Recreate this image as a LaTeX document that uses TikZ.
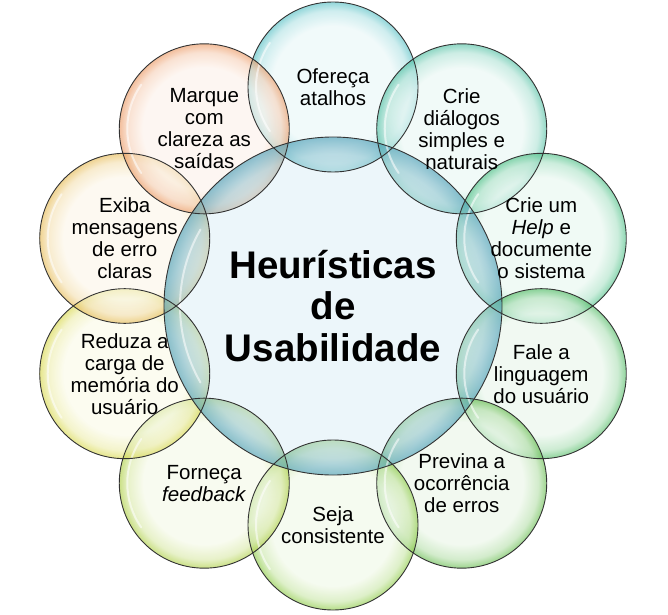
\documentclass[tikz,border=0pt]{standalone}
\usepackage{fontspec}
\setmainfont{Liberation Sans}
\usepackage{xcolor}
\usepackage{tikz}
\usetikzlibrary{calc}
\definecolor{hubrim}{RGB}{70,155,180}
\definecolor{hubin}{RGB}{236,246,250}
\definecolor{bub1}{RGB}{80,190,195}
\definecolor{bub2}{RGB}{75,190,160}
\definecolor{bub3}{RGB}{70,190,130}
\definecolor{bub4}{RGB}{75,185,95}
\definecolor{bub5}{RGB}{95,185,70}
\definecolor{bub6}{RGB}{135,200,60}
\definecolor{bub7}{RGB}{170,205,60}
\definecolor{bub8}{RGB}{215,215,70}
\definecolor{bub9}{RGB}{230,185,80}
\definecolor{bub10}{RGB}{235,150,95}
\colorlet{bubin}{white}
\colorlet{bubmid}{white}
\colorlet{bubout}{white}
\pgfdeclareradialshading[bubin,bubmid,bubout]{bubble}{\pgfpoint{0bp}{0bp}}{%
  color(0bp)=(bubin); color(18bp)=(bubin); color(22.5bp)=(bubmid);
  color(25bp)=(bubout); color(50bp)=(bubout)}
\pgfdeclareradialshading{hubshade}{\pgfpoint{0bp}{0bp}}{%
  color(0bp)=(hubin); color(19.5bp)=(hubrim!28!white); color(22.5bp)=(hubrim!50!white);
  color(25bp)=(hubrim); color(50bp)=(hubrim)}

\begin{document}
\begin{tikzpicture}[
  x=1pt, y=1pt,
  lbl/.style={align=center, inner sep=0pt, text=black,
    font=\fontsize{20.5}{22}\selectfont},
  ttl/.style={align=center, inner sep=0pt,
    font=\fontsize{38.5}{41.5}\selectfont\bfseries},
  rim/.style={draw=black!80, line width=0.9pt},
  gloss/.style={white, line width=2pt, line cap=round, opacity=0.55},
]
\useasboundingbox (0,0) rectangle (668,614);

% hub
\coordinate (hub) at (333,308);
\fill[hubin] (hub) circle[radius=169];

% outer bubbles, clockwise from the top
\foreach \i in {1,...,10}
  \coordinate (b\i) at ($(hub)+({126-36*\i}:219)$);

\foreach \i in {1,...,10}{
  \colorlet{bubin}{bub\i!13!white}
  \colorlet{bubmid}{bub\i!45!white}
  \colorlet{bubout}{bub\i}
  \shade[shading=bubble, fill opacity=0.62] (b\i) circle[radius=85];
}

% hub rim seen through the bubbles
\begin{scope}
  \clip (b1) circle[radius=85] (b2) circle[radius=85] (b3) circle[radius=85]
        (b4) circle[radius=85] (b5) circle[radius=85] (b6) circle[radius=85]
        (b7) circle[radius=85] (b8) circle[radius=85] (b9) circle[radius=85]
        (b10) circle[radius=85];
  \shade[shading=hubshade, fill opacity=0.6] (hub) circle[radius=169];
\end{scope}

% highlights
\draw[gloss] ($(hub)+(150:153)$) arc[start angle=150, end angle=210, radius=153];
\foreach \i in {1,...,10}
  \draw[gloss] ($(b\i)+(145:77)$) arc[start angle=145, end angle=215, radius=77];

% outlines
\draw[rim] (hub) circle[radius=169];
\foreach \i in {1,...,10}
  \draw[rim] (b\i) circle[radius=85];

% texts
\node[ttl] (title) at (hub) {Heurísticas\\de\\Usabilidade};
\foreach \i/\txt in {
  1/{Ofereça\\atalhos},
  2/{Crie\\diálogos\\simples e\\naturais},
  3/{Crie um\\\textit{Help} e\\documente\\o sistema},
  4/{Fale a\\linguagem\\do usuário},
  5/{Previna a\\ocorrência\\de erros},
  6/{Seja\\consistente},
  7/{Forneça\\\textit{feedback}},
  8/{Reduza a\\carga de\\memória do\\usuário},
  9/{Exiba\\mensagens\\de erro\\claras},
  10/{Marque\\com\\clareza as\\saídas}}
  \node[lbl] (t\i) at (b\i) {\txt};

\end{tikzpicture}
\end{document}
